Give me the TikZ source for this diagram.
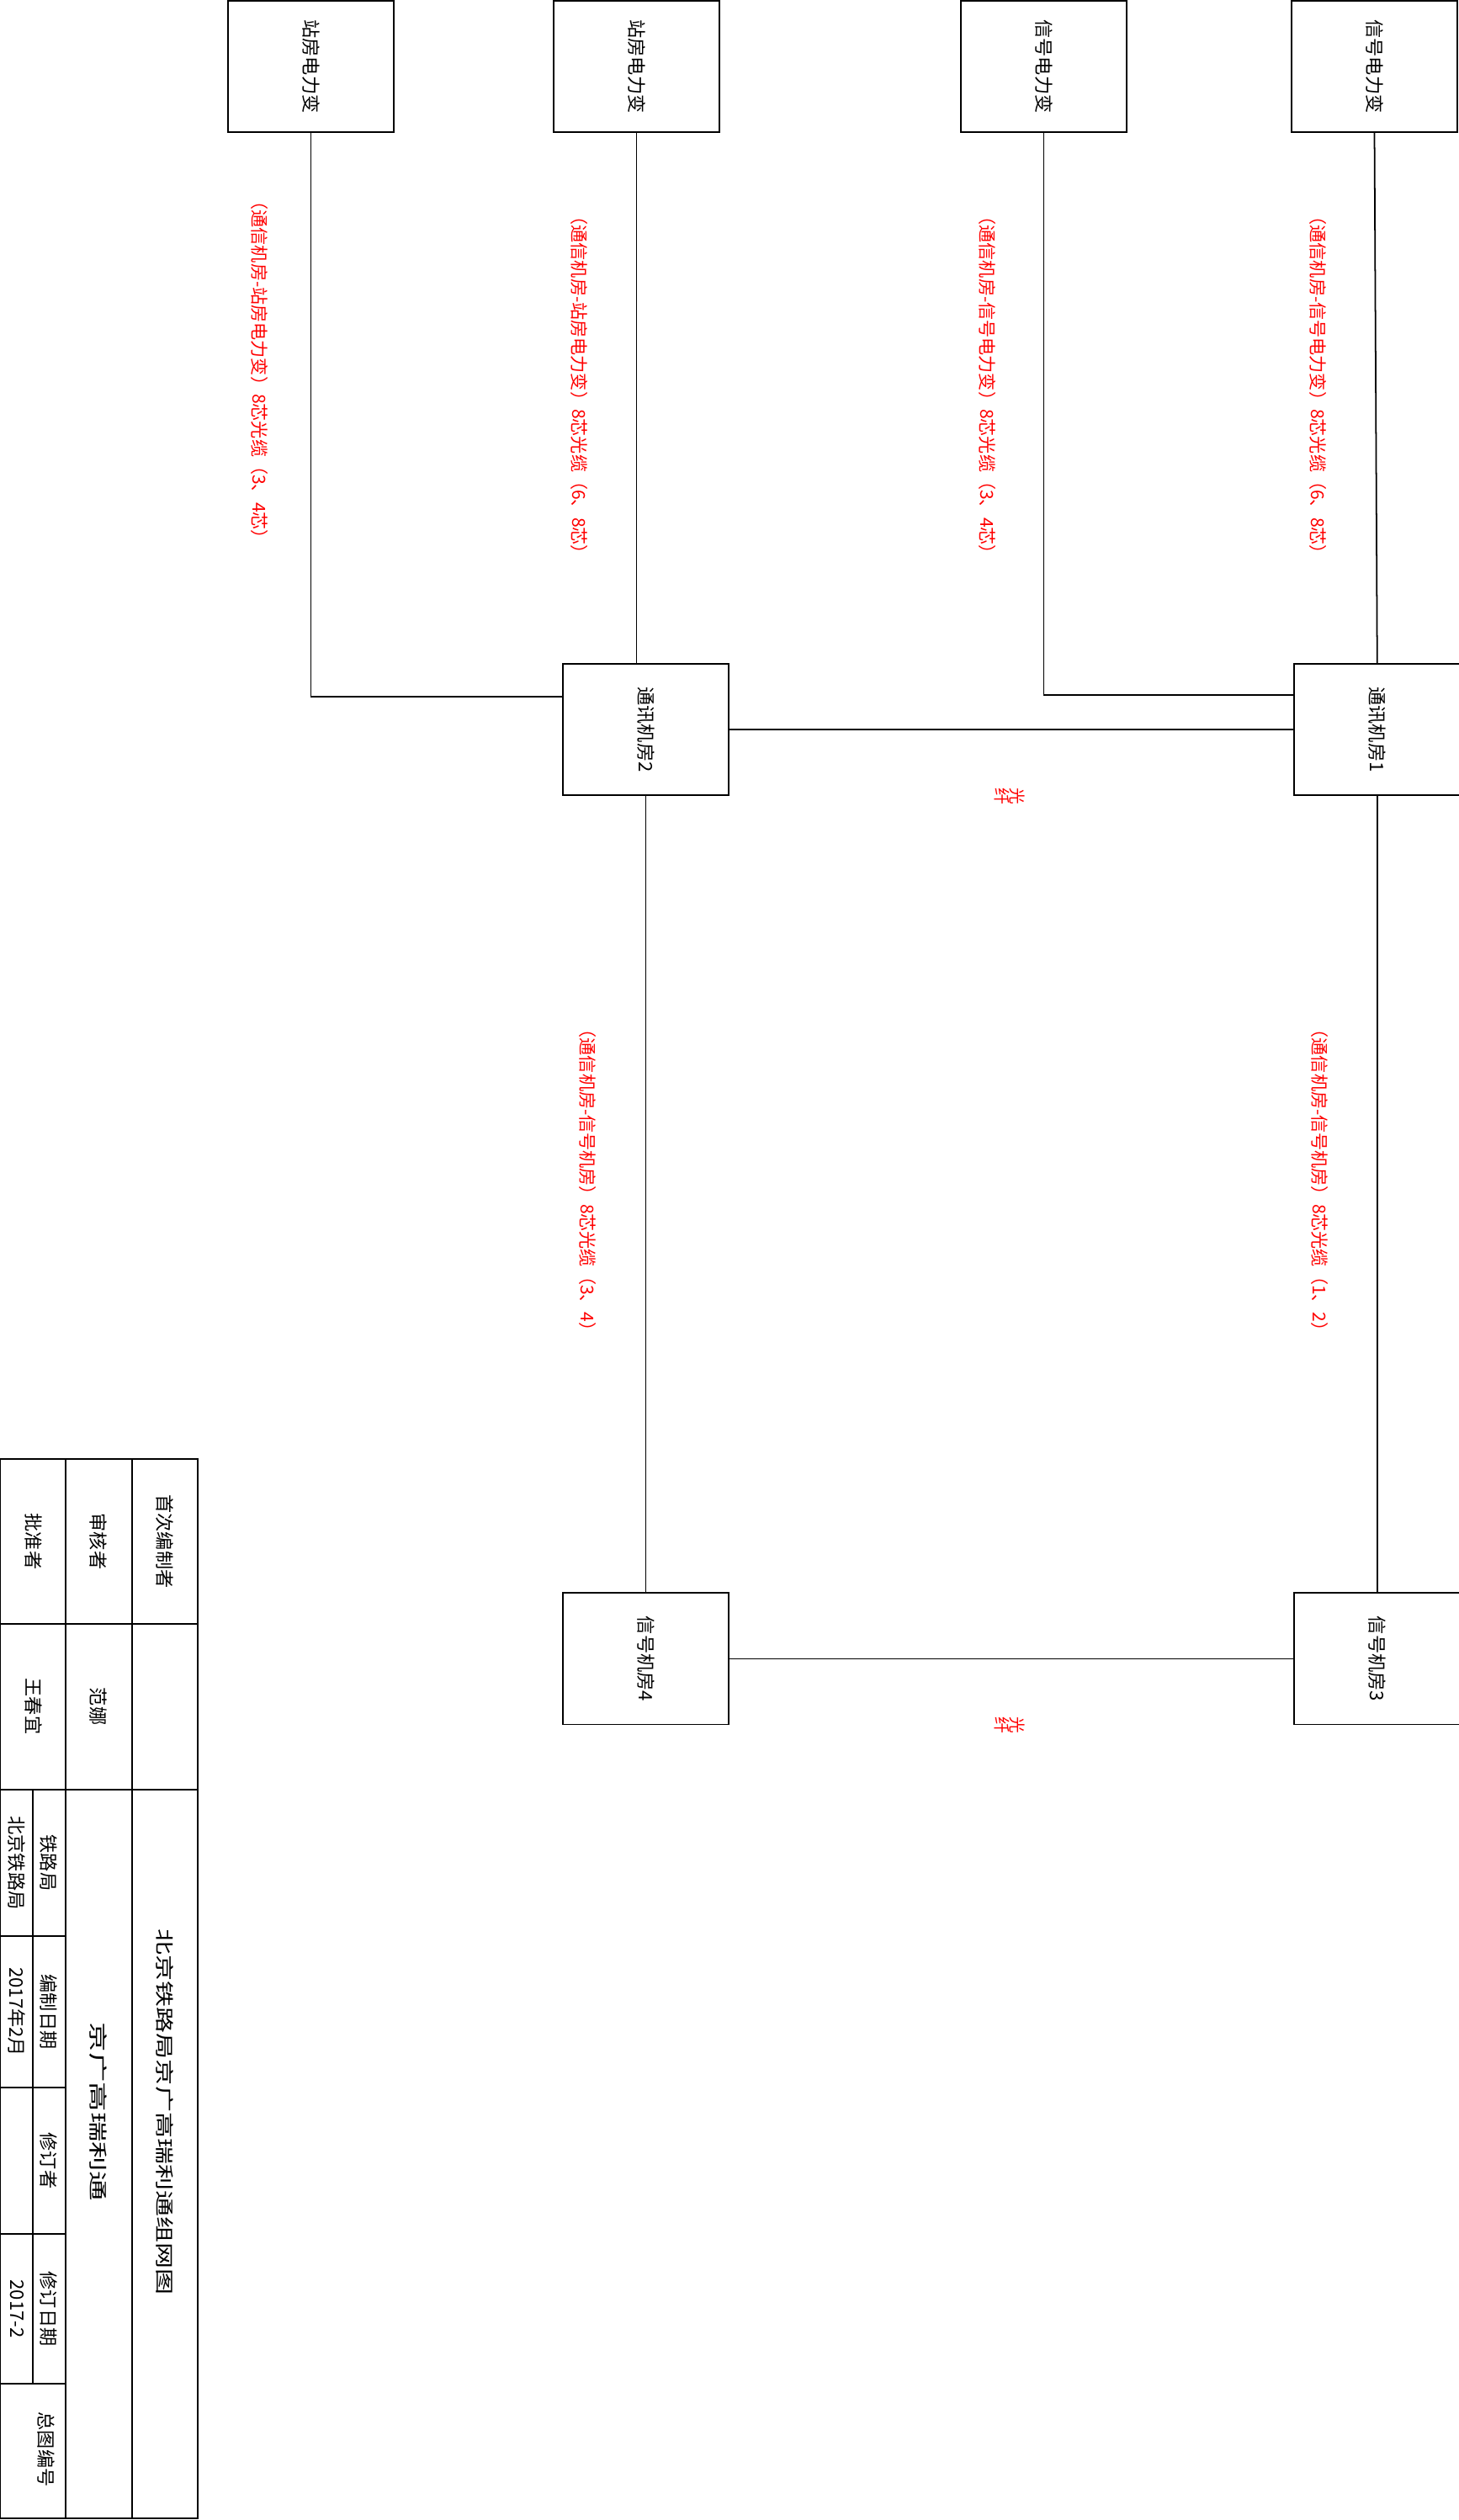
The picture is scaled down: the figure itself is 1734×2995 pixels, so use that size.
\documentclass[tikz,border=0pt]{standalone}
\usepackage{fontspec}
\setmainfont{Noto Sans CJK SC}
\usepackage{xcolor}
\usepackage{tikz}
\usetikzlibrary{positioning}
\definecolor{cablered}{HTML}{FF0000}
\tikzset{
  room/.style={draw, line width=0.5pt, minimum width=1.97cm, minimum height=1.56cm, inner sep=0pt, font=\fontsize{6.3}{7}\selectfont},
  cable/.style={text=cablered, rotate=-90, anchor=west, inner sep=0pt, font=\fontsize{6}{7}\selectfont},
  fiber/.style={text=cablered, inner sep=0pt, font=\fontsize{5.6}{6}\selectfont},
  cell/.style={rotate=-90, inner sep=0pt, font=\fontsize{6.3}{7}\selectfont},
  link/.style={line width=0.5pt},
  frame/.style={line width=0.55pt}
}

\begin{document}
\begin{tikzpicture}[x=0.01cm, y=-0.01cm]
\useasboundingbox (0,0) rectangle (1734,2995);
% power transformer boxes along the top
\foreach \x/\n/\t in {369.5/sfA/站房电力变, 756.5/sfB/站房电力变, 1240.5/xdC/信号电力变, 1633.5/xdD/信号电力变}
  \node[room] (\n) at (\x,79) {\rotatebox{-90}{\t}};
% rooms
\node[room] (tx2) at (767.5,867) {\rotatebox{-90}{通讯机房2}};
\node[room, right=6.7cm of tx2] (tx1) {\rotatebox{-90}{通讯机房1}};
\node[room, below=9.46cm of tx2] (xh4) {\rotatebox{-90}{信号机房4}};
\node[room, below=9.46cm of tx1] (xh3) {\rotatebox{-90}{信号机房3}};
% links
\draw[link] (sfA.south) |- ([yshift=-0.4cm]tx2.north west);
\draw[link] (sfB.south) -- (sfB.south |- tx2.north);
\draw[link] (xdC.south) |- ([yshift=-0.38cm]tx1.north west);
\draw[link] (xdD.south) -- (tx1.north);
\draw[link] (tx2.east) -- (tx1.west);
\draw[link] (tx2.south) -- (xh4.north);
\draw[link] (tx1.south) -- (xh3.north);
\draw[link] (xh4.east) -- (xh3.west);
% cable labels
\node[cable] (labA) at (309,228) {（通信机房-站房电力变）8芯光缆（3、4芯）};
\node[cable] (labB) at (689,246) {（通信机房-站房电力变）8芯光缆（6、8芯）};
\node[cable] (labC) at (1173,246) {（通信机房-信号电力变）8芯光缆（3、4芯）};
\node[cable] (labD) at (1566,246) {（通信机房-信号电力变）8芯光缆（6、8芯）};
\node[cable] (lab24) at (699,1212) {（通信机房-信号机房）8芯光缆（3、4）};
\node[cable] (lab13) at (1568,1212) {（通信机房-信号机房）8芯光缆（1、2）};
\node[fiber] (fib12) at (1200,946) {\rotatebox{-90}{纤}\rotatebox{-90}{光}};
\node[fiber] (fib34) at (1200,2050) {\rotatebox{-90}{纤}\rotatebox{-90}{光}};
% title block
\draw[frame] (0,1734) rectangle (235,2993);
\draw[frame] (78,1734) -- (78,2993) (157,1734) -- (157,2993);
\draw[frame] (0,1930) -- (235,1930) (0,2127) -- (235,2127);
\draw[frame] (39,2127) -- (39,2833);
\foreach \y in {2301,2481,2655,2833}
  \draw[frame] (0,\y) -- (78,\y);
\foreach \x/\y/\n/\t in {196/1832/tbA/首次编制者, 117/1832/tbB/审核者, 40/1832/tbC/批准者,
  117/2028/tbD/范娜, 40/2028/tbE/王春宜,
  58/2214/tbF/铁路局, 58/2391/tbG/编制日期, 58/2568/tbH/修订者, 58/2744/tbI/修订日期,
  20/2214/tbJ/北京铁路局, 20/2391/tbK/2017年2月, 20/2744/tbL/2017-2, 55/2911/tbM/总图编号}
  \node[cell] (\n) at (\x,\y) {\t};
\node[cell] (tbN) at (196,2510) {\scalebox{1.4}[1]{北京铁路局京广高瑞利通组网图}};
\node[cell] (tbO) at (117,2510) {\scalebox{1.6}[1]{京广高瑞利通}};
\end{tikzpicture}
\end{document}
